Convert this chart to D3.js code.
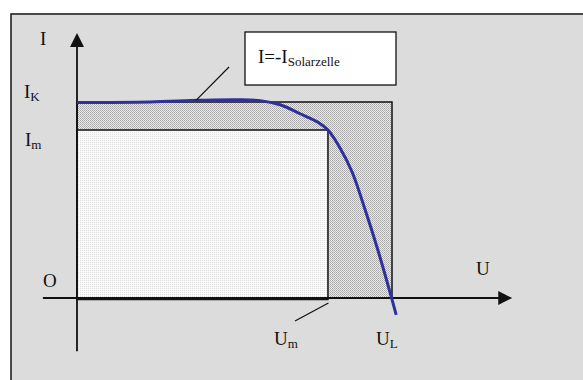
<!DOCTYPE html>
<html>
<head>
<meta charset="utf-8">
<script src="https://cdn.jsdelivr.net/npm/d3@7"></script>
<style>
  html, body { margin: 0; padding: 0; background: #fff; }
  svg { display: block; }
  text { font-family: "Liberation Serif", serif; fill: #111; }
</style>
</head>
<body>
<div id="chart"></div>
<script>
// characteristic values (U in V, I in A)
const uAxisRange = [-0.065, 0.829];
const iAxisRange = [-0.95, 4.73];
const U_m = 0.478, U_L = 0.6;
const I_m = 3.0, I_K = 3.5;

// solar cell curve I = -I_Solarzelle
const curveU = [0, 0.139, 0.234, 0.310, 0.352, 0.387, 0.425, 0.459, 0.478, 0.501, 0.524, 0.549, 0.573, 0.596, 0.608];
const curveI = [3.49, 3.50, 3.53, 3.54, 3.52, 3.45, 3.29, 3.14, 3.0, 2.68, 2.25, 1.57, 0.86, 0.11, -0.30];

const width = 583, height = 380;

const x = d3.scaleLinear().domain([0, U_L]).range([77, 392]);
const y = d3.scaleLinear().domain([0, I_K]).range([298, 102]);

const svg = d3.select('#chart').append('svg')
  .attr('width', width)
  .attr('height', height);

const defs = svg.append('defs');

// dotted fill for the big rectangle (I_K x U_L)
const dark = defs.append('pattern')
  .attr('id', 'dotsDark')
  .attr('width', 2).attr('height', 2)
  .attr('patternUnits', 'userSpaceOnUse');
dark.append('rect').attr('width', 2).attr('height', 2).attr('fill', '#ececec');
dark.append('rect').attr('width', 1).attr('height', 1).attr('fill', '#a4a4a4');
dark.append('rect').attr('x', 1).attr('y', 1).attr('width', 1).attr('height', 1).attr('fill', '#b4b4b4');

// lighter fill for the MPP rectangle (I_m x U_m)
const light = defs.append('pattern')
  .attr('id', 'dotsLight')
  .attr('width', 2).attr('height', 2)
  .attr('patternUnits', 'userSpaceOnUse');
light.append('rect').attr('width', 2).attr('height', 2).attr('fill', '#fafafa');
light.append('rect').attr('width', 1).attr('height', 1).attr('fill', '#dedede');

// grey panel with frame
svg.append('rect')
  .attr('x', 11).attr('y', 14)
  .attr('width', width + 20).attr('height', height + 20)
  .attr('fill', '#dcdcdc')
  .attr('stroke', '#222')
  .attr('stroke-width', 1.6);

// rectangles
svg.append('rect')
  .attr('x', x(0)).attr('y', y(I_K))
  .attr('width', x(U_L) - x(0)).attr('height', y(0) - y(I_K))
  .attr('fill', 'url(#dotsDark)')
  .attr('stroke', '#111').attr('stroke-width', 1.5);

svg.append('rect')
  .attr('x', x(0)).attr('y', y(I_m))
  .attr('width', x(U_m) - x(0)).attr('height', y(0) - y(I_m) + 1.5)
  .attr('fill', 'url(#dotsLight)')
  .attr('stroke', '#111').attr('stroke-width', 1.5);

// axes
svg.append('line')
  .attr('x1', x(uAxisRange[0])).attr('y1', y(0))
  .attr('x2', x(uAxisRange[1]) - 12).attr('y2', y(0))
  .attr('stroke', '#111').attr('stroke-width', 1.8);
svg.append('path')
  .attr('d', `M${x(uAxisRange[1])},${y(0)} l-14,-7 l0,14 z`)
  .attr('fill', '#111');

svg.append('line')
  .attr('x1', x(0)).attr('y1', y(iAxisRange[0]))
  .attr('x2', x(0)).attr('y2', y(iAxisRange[1]) + 12)
  .attr('stroke', '#111').attr('stroke-width', 1.8);
svg.append('path')
  .attr('d', `M${x(0)},${y(iAxisRange[1])} l-7,14 l14,0 z`)
  .attr('fill', '#111');

// the cell curve
const line = d3.line()
  .x(d => x(d[0]))
  .y(d => y(d[1]))
  .curve(d3.curveCatmullRom.alpha(0.5));

svg.append('path')
  .datum(d3.zip(curveU, curveI))
  .attr('d', line)
  .attr('fill', 'none')
  .attr('stroke', '#2f2f9e')
  .attr('stroke-width', 3)
  .attr('stroke-linecap', 'butt');

// callout box
svg.append('rect')
  .attr('x', 245).attr('y', 32)
  .attr('width', 151).attr('height', 53)
  .attr('fill', '#fff')
  .attr('stroke', '#111').attr('stroke-width', 1.3);
svg.append('line')
  .attr('x1', 229).attr('y1', 67)
  .attr('x2', 196).attr('y2', y(curveI[2]))
  .attr('stroke', '#111').attr('stroke-width', 1.2);

const callout = svg.append('text').attr('x', 258).attr('y', 63).style('font-size', '19px');
callout.append('tspan').text('I=-I');
callout.append('tspan').attr('dy', 3).style('font-size', '13px').text('Solarzelle');

// leader to U_m
svg.append('line')
  .attr('x1', 295).attr('y1', 321)
  .attr('x2', x(U_m) + 0.5).attr('y2', y(0) + 5)
  .attr('stroke', '#111').attr('stroke-width', 1.2);

// labels with subscripts
function label(px, py, main, sub) {
  const t = svg.append('text').attr('x', px).attr('y', py).style('font-size', '19px');
  t.append('tspan').text(main);
  if (sub) t.append('tspan').attr('dy', 3).style('font-size', '13px').text(sub);
}

label(40, 45, 'I');
label(24, 98, 'I', 'K');
label(25, 146, 'I', 'm');
label(43, 287, 'O');
label(476, 275, 'U');
label(274, 345, 'U', 'm');
label(376, 345, 'U', 'L');
</script>
</body>
</html>
